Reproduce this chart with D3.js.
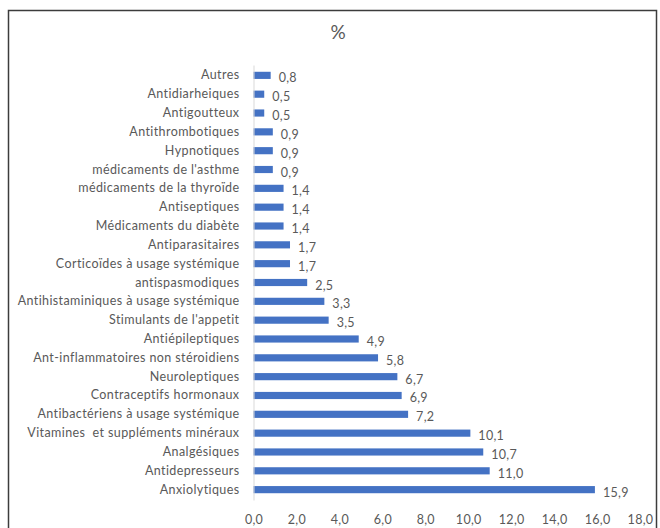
<!DOCTYPE html>
<html>
<head>
<meta charset="utf-8">
<script src="https://cdn.jsdelivr.net/npm/d3@7"></script>
<style>
  html, body { margin: 0; padding: 0; background: #fff; }
  svg { display: block; }
  text { font-family: Lato, "Liberation Sans", sans-serif; }
</style>
</head>
<body>
<svg id="chart" width="660" height="528"></svg>
<script>
const categories = [
  "Autres", "Antidiarheiques", "Antigoutteux", "Antithrombotiques", "Hypnotiques",
  "médicaments de l'asthme", "médicaments de la thyroïde", "Antiseptiques",
  "Médicaments du diabète", "Antiparasitaires", "Corticoïdes à usage systémique",
  "antispasmodiques", "Antihistaminiques à usage systémique", "Stimulants de l'appetit",
  "Antiépileptiques", "Ant-inflammatoires non stéroidiens", "Neuroleptiques",
  "Contraceptifs hormonaux", "Antibactériens à usage systémique",
  "Vitamines  et suppléments minéraux", "Analgésiques", "Antidepresseurs", "Anxiolytiques"
];
const values = [0.8, 0.5, 0.5, 0.9, 0.9, 0.9, 1.4, 1.4, 1.4, 1.7, 1.7, 2.5, 3.3, 3.5,
  4.9, 5.8, 6.7, 6.9, 7.2, 10.1, 10.7, 11.0, 15.9];
const tickValues = [0, 2, 4, 6, 8, 10, 12, 14, 16, 18];
const title = "%";

const data = categories.map((c, i) => ({ cat: c, val: values[i] }));
const fmt = v => v.toFixed(1).replace(".", ",");

const svg = d3.select("#chart");
const textColor = "#595959";
const barColor = "#4472C4";

// outer frame
svg.append("rect")
  .attr("x", 8.5).attr("y", 10.5)
  .attr("width", 648).attr("height", 530)
  .attr("fill", "none").attr("stroke", "#3c3c3c").attr("stroke-width", 1.5);

const x = d3.scaleLinear().domain([0, 18]).range([253.5, 640]);
const y = d3.scaleBand().domain(categories).range([65, 500])
  .paddingInner(0.62).paddingOuter(0.36);

// title
svg.append("text")
  .attr("x", 338).attr("y", 39)
  .attr("text-anchor", "middle")
  .attr("font-size", 19)
  .attr("fill", textColor)
  .text(title);

// bars
svg.append("g").selectAll("rect").data(data).join("rect")
  .attr("x", x(0))
  .attr("y", d => y(d.cat))
  .attr("width", d => x(d.val) - x(0))
  .attr("height", y.bandwidth())
  .attr("fill", barColor);

// value labels
svg.append("g").selectAll("text").data(data).join("text")
  .attr("x", d => x(d.val) + 8)
  .attr("y", d => y(d.cat) + y.bandwidth() / 2 + 7)
  .attr("font-size", 12.5)
  .attr("letter-spacing", 0.3)
  .attr("fill", textColor)
  .text(d => fmt(d.val));

// y axis
const yAxis = svg.append("g")
  .attr("transform", `translate(${x(0)},0)`)
  .call(d3.axisLeft(y).tickSize(0).tickPadding(14));
yAxis.select(".domain").attr("stroke", "#d9d9d9").attr("stroke-width", 1);
yAxis.selectAll("text")
  .attr("font-size", 12.5)
  .attr("letter-spacing", 0.4)
  .attr("fill", textColor)
  .style("white-space", "pre")
  .attr("font-family", "Lato, 'Liberation Sans', sans-serif");

// x axis
const xAxis = svg.append("g")
  .attr("transform", "translate(0,511)")
  .call(d3.axisBottom(x).tickValues(tickValues).tickFormat(fmt).tickSize(0).tickPadding(4));
xAxis.select(".domain").remove();
xAxis.selectAll("text")
  .attr("font-size", 12.5)
  .attr("letter-spacing", 0.3)
  .attr("fill", textColor)
  .attr("font-family", "Lato, 'Liberation Sans', sans-serif");
</script>
</body>
</html>
